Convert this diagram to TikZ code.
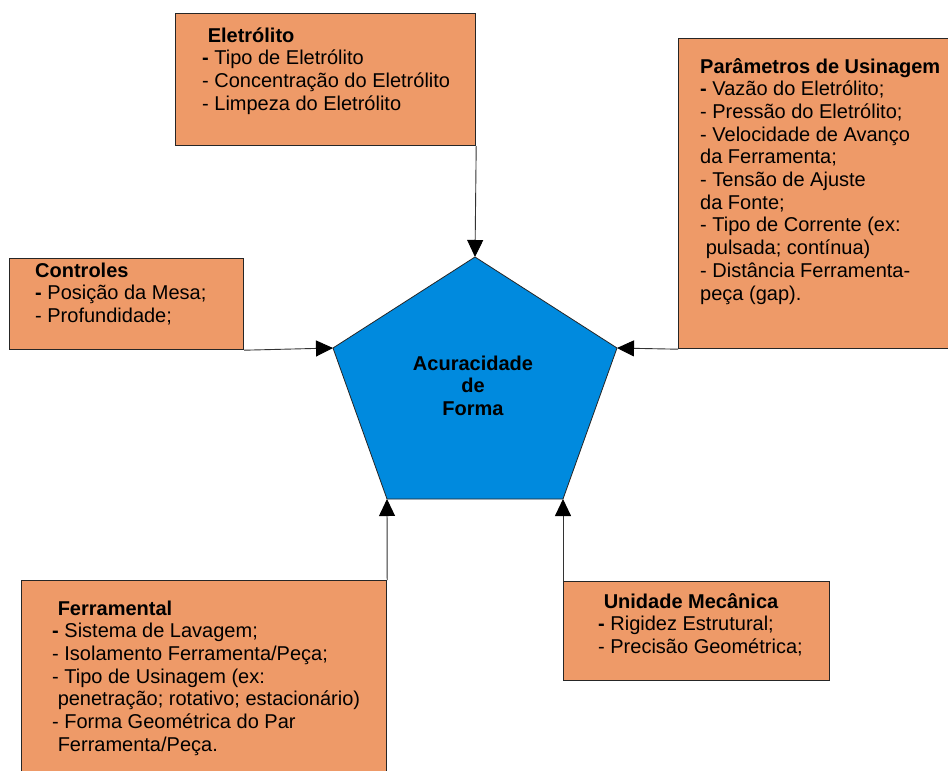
\documentclass[tikz,border=0pt]{standalone}
\usepackage{fontspec}
\setmainfont{Liberation Sans}
\usetikzlibrary{arrows.meta}
\definecolor{boxfill}{RGB}{238,154,104}
\definecolor{pentfill}{RGB}{0,138,222}
\begin{document}
\begin{tikzpicture}[x=1pt,y=-1pt,
  box/.style={draw=black!85, line width=1.2pt, fill=boxfill, anchor=north west, inner sep=0pt},
  txt/.style={anchor=base west, inner sep=0pt, font=\fontsize{20}{22.7}\selectfont},
  ptxt/.style={anchor=base, inner sep=0pt, font=\fontsize{20}{22.7}\selectfont\bfseries},
  conn/.style={draw=black!80, line width=0.9pt, -{Triangle[length=17pt,width=16pt,color=black]}}]
\useasboundingbox (0,0) rectangle (948,771);
\clip (0,0) rectangle (948,771);

% boxes
\node[box, minimum width=300pt, minimum height=132pt] (elet) at (175,13) {};
\node[box, minimum width=274pt, minimum height=310pt] (param) at (678,38) {};
\node[box, minimum width=234pt, minimum height=91pt] (ctrl) at (9,258) {};
\node[box, minimum width=365pt, minimum height=215pt] (ferr) at (21,580) {};
\node[box, minimum width=266pt, minimum height=99pt] (unid) at (563,581) {};

% pentagon
\coordinate (ptop) at (475,257);
\coordinate (pleft) at (333,348);
\coordinate (pright) at (617,348);
\coordinate (pbl) at (387,499);
\coordinate (pbr) at (563,499);
\draw[fill=pentfill, draw=black!85, line width=0.8pt] (ptop) -- (pright) -- (pbr) -- (pbl) -- (pleft) -- cycle;
\node[ptxt] (ptext) at (473,370) {\begin{tabular}[t]{@{}c@{}}Acuracidade\\de\\Forma\end{tabular}};

% texts
\node[txt] (eletT) at (202,42) {\begin{tabular}[t]{@{}l@{}}
\ \textbf{Eletrólito}\\
\textbf{-} Tipo de Eletrólito\\
- Concentração do Eletrólito\\
- Limpeza do Eletrólito
\end{tabular}};

\node[txt] (paramT) at (700,73) {\begin{tabular}[t]{@{}l@{}}
\textbf{Parâmetros de Usinagem}\\
\textbf{-} Vazão do Eletrólito;\\
- Pressão do Eletrólito;\\
- Velocidade de Avanço\\
da Ferramenta;\\
- Tensão de Ajuste\\
da Fonte;\\
- Tipo de Corrente (ex:\\
\ pulsada; contínua)\\
- Distância Ferramenta-\\
peça (gap).
\end{tabular}};

\node[txt] (ctrlT) at (35,277) {\begin{tabular}[t]{@{}l@{}}
\textbf{Controles}\\
\textbf{-} Posição da Mesa;\\
- Profundidade;
\end{tabular}};

\node[txt] (ferrT) at (52,615) {\begin{tabular}[t]{@{}l@{}}
\ \textbf{Ferramental}\\
\textbf{-} Sistema de Lavagem;\\
- Isolamento Ferramenta/Peça;\\
- Tipo de Usinagem (ex:\\
\ penetração; rotativo; estacionário)\\
- Forma Geométrica do Par\\
\ Ferramenta/Peça.
\end{tabular}};

\node[txt] (unidT) at (598,608) {\begin{tabular}[t]{@{}l@{}}
\ \textbf{Unidade Mecânica}\\
\textbf{-} Rigidez Estrutural;\\
- Precisão Geométrica;
\end{tabular}};

% connectors
\draw[conn] (elet.south east) -- (ptop);
\draw[conn] (ctrl.south east) -- (pleft);
\draw[conn] (param.south west) -- (pright);
\draw[conn] (ferr.north east) -- (pbl);
\draw[conn] (unid.north west) -- (pbr);
\end{tikzpicture}
\end{document}
